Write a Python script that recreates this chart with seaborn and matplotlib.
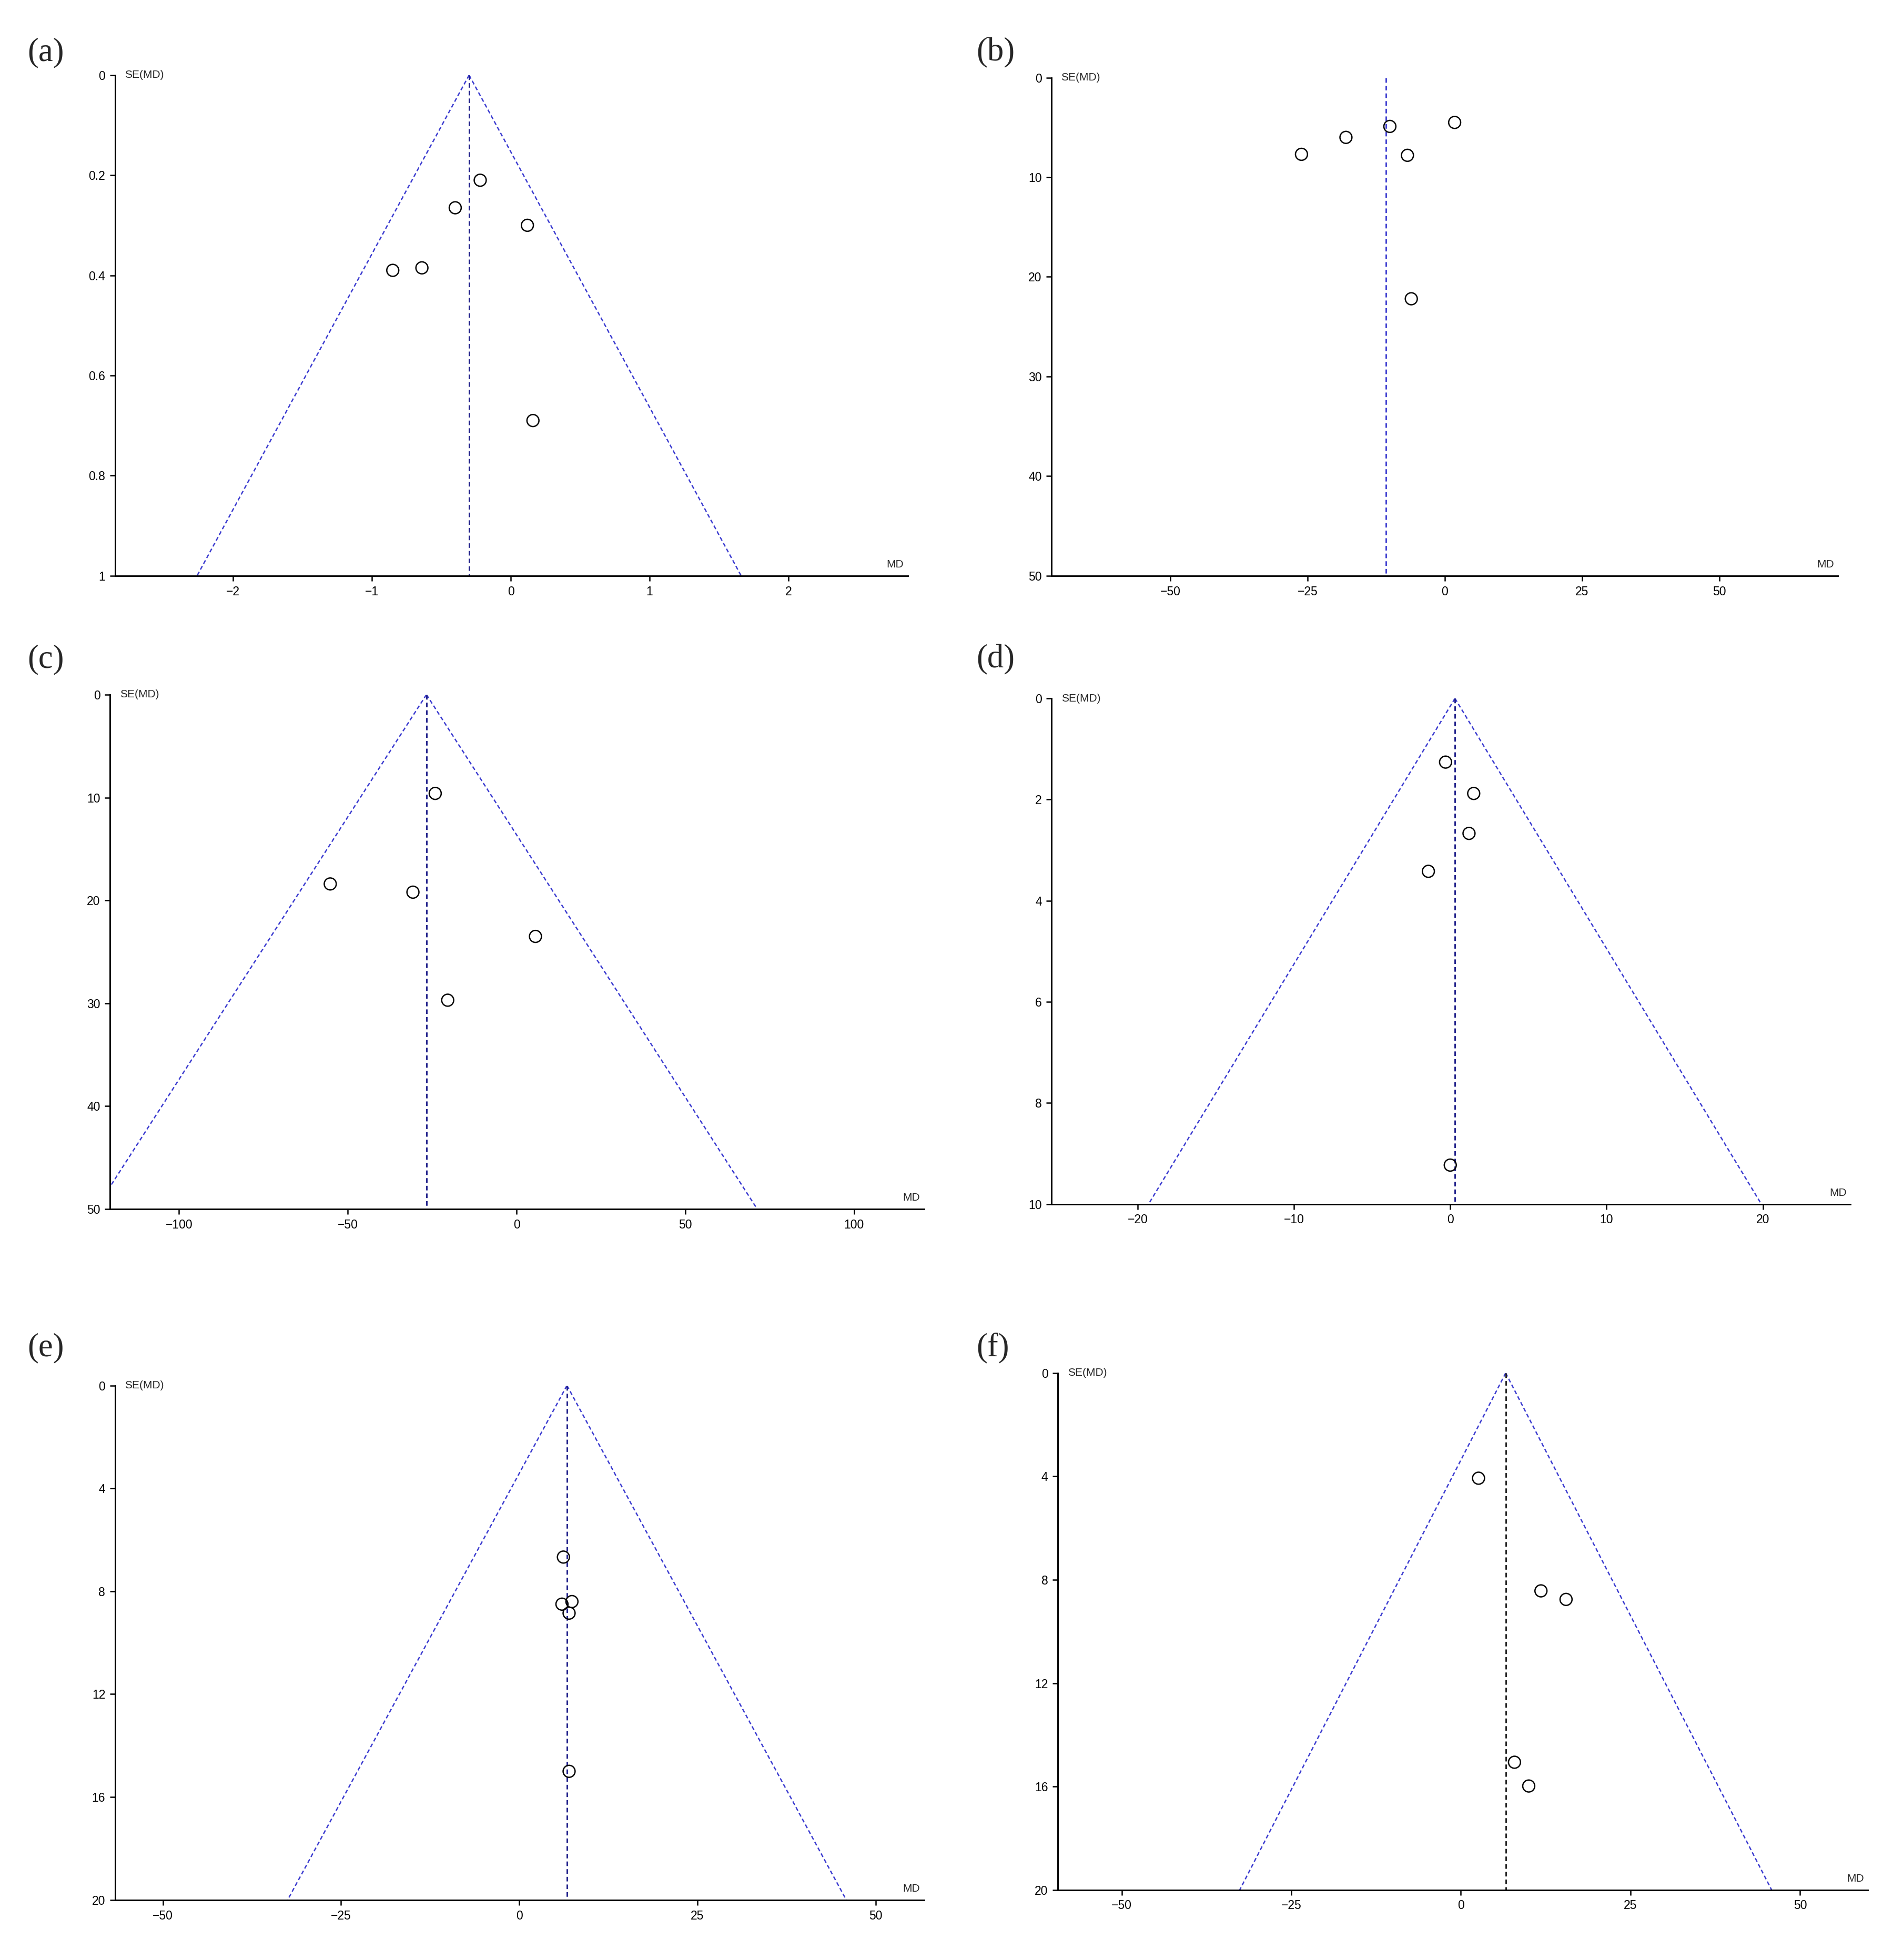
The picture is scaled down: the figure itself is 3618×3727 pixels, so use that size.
import matplotlib
matplotlib.use("Agg")
import matplotlib.pyplot as plt
import numpy as np
import pandas as pd
import seaborn as sns

# study estimates (MD, SE(MD))
a_md = [-0.22, -0.40, 0.12, -0.85, -0.64, 0.16]
a_se = [0.21, 0.265, 0.30, 0.39, 0.385, 0.69]
b_md = [-26.1, -18.0, -10.0, 1.8, -6.8, -6.1]
b_se = [7.7, 6.0, 4.9, 4.5, 7.8, 22.2]
c_md = [-24.1, -55.2, -30.7, 5.6, -20.4]
c_se = [9.6, 18.4, 19.2, 23.5, 29.7]
d_md = [-0.3, 1.5, 1.2, -1.4, 0.0]
d_se = [1.26, 1.88, 2.67, 3.42, 9.23]
e_md = [6.2, 6.0, 7.4, 7.0, 7.0]
e_se = [6.67, 8.5, 8.4, 8.85, 15.0]
f_md = [2.6, 11.8, 15.5, 7.9, 10.0]
f_se = [4.07, 8.43, 8.76, 15.06, 15.98]

pooled = [-0.30, -10.7, -26.7, 0.3, 6.7, 6.6]
show_funnel = [True, False, True, True, True, True]
x_limits = [(-2.85, 2.86), (-71.6, 71.6), (-120.4, 120.7), (-25.5, 25.6), (-56.7, 56.8), (-59.4, 60.0)]
y_max = [1, 50, 50, 10, 20, 20]
x_ticks = [[-2, -1, 0, 1, 2], [-50, -25, 0, 25, 50], [-100, -50, 0, 50, 100],
           [-20, -10, 0, 10, 20], [-50, -25, 0, 25, 50], [-50, -25, 0, 25, 50]]
y_ticks = [[0, 0.2, 0.4, 0.6, 0.8, 1], [0, 10, 20, 30, 40, 50], [0, 10, 20, 30, 40, 50],
           [0, 2, 4, 6, 8, 10], [0, 4, 8, 12, 16, 20], [0, 4, 8, 12, 16, 20]]
labels = ["(a)", "(b)", "(c)", "(d)", "(e)", "(f)"]
panels = [(a_md, a_se), (b_md, b_se), (c_md, c_se), (d_md, d_se), (e_md, e_se), (f_md, f_se)]

# axes boxes in reference pixels (left, right, top, bottom) on a 1520x1566 canvas
W, H = 1520, 1566
boxes = [(92, 725, 60, 460), (840, 1468, 62, 460), (88, 738, 555, 966),
         (840, 1478, 558, 962), (92, 738, 1107, 1518), (845, 1492, 1097, 1510)]
label_pos = [(22, 42), (780, 42), (22, 527), (780, 527), (22, 1077), (780, 1077)]

sns.set_style("white")
plt.rcParams["font.family"] = ["Arial", "Liberation Sans", "DejaVu Sans"]

fig = plt.figure(figsize=(3618 / 300, 3727 / 300), dpi=300)

for i, (md, se) in enumerate(panels):
    l, r, t, b = boxes[i]
    ax = fig.add_axes([l / W, 1 - b / H, (r - l) / W, (b - t) / H])
    df = pd.DataFrame({"MD": md, "SE": se})
    x0 = pooled[i]
    ys = np.array([0, y_max[i]])
    funnel = "#3b3bd0"
    if show_funnel[i]:
        ax.plot(x0 - 1.96 * ys, ys, ls=(0, (3, 2)), color=funnel, lw=0.6)
        ax.plot(x0 + 1.96 * ys, ys, ls=(0, (3, 2)), color=funnel, lw=0.6)
    vcol = "#222222" if i == 5 else ("#4040d0" if i == 1 else "#20208a")
    ax.plot([x0, x0], ys, ls=(0, (3, 2)), color=vcol, lw=0.7)
    sns.scatterplot(data=df, x="MD", y="SE", ax=ax, s=30, marker="o",
                    facecolor="none", edgecolor="black", linewidth=0.6, zorder=3)
    ax.set_xlim(*x_limits[i])
    ax.set_ylim(y_max[i], 0)
    ax.set_xticks(x_ticks[i])
    ax.set_yticks(y_ticks[i])
    ax.set_yticklabels([f"{v:g}" for v in y_ticks[i]])
    ax.set_xlabel("")
    ax.set_ylabel("")
    for s in ["top", "right"]:
        ax.spines[s].set_visible(False)
    for s in ["left", "bottom"]:
        ax.spines[s].set_color("black")
        ax.spines[s].set_linewidth(0.7)
    ax.tick_params(axis="both", direction="out", length=2.5, width=0.6,
                   labelsize=5.5, colors="black", pad=2, left=True, bottom=True)
    ax.text(0.012, 1.0, "SE(MD)", transform=ax.transAxes, fontsize=5, va="center", ha="left")
    ax.text(0.995, 0.012, "MD", transform=ax.transAxes, fontsize=5, va="bottom", ha="right")
    lx, ly = label_pos[i]
    fig.text(lx / W, 1 - ly / H, labels[i], fontsize=15, family="Liberation Serif",
             va="center", ha="left")

fig.savefig("out.png", dpi=300, facecolor="white")
